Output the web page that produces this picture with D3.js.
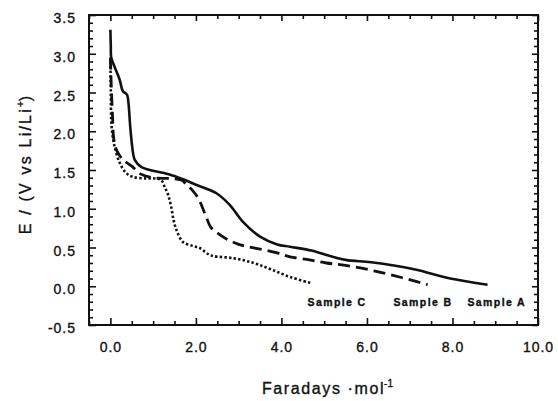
<!DOCTYPE html>
<html><head><meta charset="utf-8">
<script src="https://cdn.jsdelivr.net/npm/d3@7"></script>
<style>
body{margin:0;background:#fff}
text{font-family:"Liberation Sans",Arial,sans-serif;fill:#111;stroke:#111;stroke-width:0.35px}
</style>
</head><body><svg id="c" width="558" height="401"></svg>
<script>
// ---- data (Faradays/mol, E in V vs Li/Li+) ----
const sampleA = [[0,3.31],[0.01,3.1],[0.02,2.95],[0.1,2.83],[0.22,2.66],[0.29,2.52],[0.39,2.47],[0.42,2.38],[0.47,2.02],[0.53,1.72],[0.57,1.63],[0.72,1.54],[1.0,1.49],[1.4,1.44],[1.7,1.38],[2.0,1.31],[2.48,1.2],[2.79,1.05],[3.1,0.83],[3.5,0.64],[3.9,0.54],[4.2,0.51],[4.7,0.46],[4.9,0.43],[5.5,0.34],[6.1,0.31],[7.1,0.22],[7.95,0.1],[8.82,0.02]];
const sampleB = [[0,2.95],[0.02,2.6],[0.05,2.2],[0.08,1.9],[0.15,1.75],[0.3,1.63],[0.5,1.55],[0.7,1.45],[1.0,1.4],[1.4,1.39],[1.66,1.37],[1.8,1.3],[1.9,1.25],[2.05,1.14],[2.15,1.02],[2.25,0.88],[2.35,0.76],[2.55,0.67],[2.75,0.6],[3.0,0.54],[3.2,0.51],[3.5,0.48],[3.9,0.43],[4.2,0.38],[4.66,0.34],[5.05,0.3],[5.5,0.27],[6.4,0.17],[7.42,0.02]];
const sampleC = [[0,2.9],[0.01,2.5],[0.02,2.15],[0.05,1.95],[0.1,1.8],[0.22,1.59],[0.37,1.46],[0.53,1.41],[0.84,1.39],[1.07,1.39],[1.19,1.37],[1.27,1.28],[1.35,1.18],[1.42,1.03],[1.48,0.85],[1.55,0.72],[1.7,0.57],[1.93,0.52],[2.1,0.49],[2.3,0.41],[2.4,0.39],[2.9,0.36],[3.35,0.3],[3.75,0.22],[4.2,0.12],[4.7,0.04]];
const seriesNames = ["Sample A","Sample B","Sample C"];
const labelX = [8.35, 6.62, 4.61];
const labelY = [-0.25, -0.25, -0.25];
const xTicks = [0,2,4,6,8,10];
const yTicks = [-0.5,0,0.5,1,1.5,2,2.5,3,3.5];
const xTitle = "Faradays ·mol";
const xTitleSup = "-1";

// ---- layout ----
const svg = d3.select("#c");
const L=89, R=538, T=15, B=325;
const x = d3.scaleLinear([-0.5,10],[L,R]);
const y = d3.scaleLinear([-0.5,3.5],[B,T]);
const fmt = d => d.toFixed(1);

// minor ticks
const xMinor = d3.range(-0.5,10.001,0.5).filter(v=>!xTicks.includes(v));
const yMinor = d3.range(-0.5,3.5001,0.1).map(v=>+v.toFixed(1)).filter(v=>!yTicks.some(t=>Math.abs(t-v)<1e-6));

function styleAxis(g){
  g.select(".domain").remove();
  g.selectAll(".tick line").attr("stroke","#111").attr("stroke-width",1.6);
}
// bottom
svg.append("g").attr("transform",`translate(0,${B})`)
  .call(d3.axisBottom(x).tickValues(xTicks).tickFormat(fmt).tickSize(-7).tickPadding(17))
  .call(styleAxis)
  .call(g=>g.selectAll("text").attr("font-size",14).attr("letter-spacing","1px").style("font-family","'Liberation Sans',Arial,sans-serif").attr("fill","#111"));
svg.append("g").attr("transform",`translate(0,${B})`)
  .call(d3.axisBottom(x).tickValues(xMinor).tickFormat("").tickSize(-4)).call(styleAxis);
// top
svg.append("g").attr("transform",`translate(0,${T})`)
  .call(d3.axisTop(x).tickValues(xTicks).tickFormat("").tickSize(-6)).call(styleAxis);
svg.append("g").attr("transform",`translate(0,${T})`)
  .call(d3.axisTop(x).tickValues(xMinor).tickFormat("").tickSize(-4)).call(styleAxis);
// left
svg.append("g").attr("transform",`translate(${L},0)`)
  .call(d3.axisLeft(y).tickValues(yTicks).tickFormat(fmt).tickSize(-7).tickPadding(13))
  .call(styleAxis)
  .call(g=>g.selectAll("text").attr("font-size",14).attr("letter-spacing","1px").attr("dy","0.55em").style("font-family","'Liberation Sans',Arial,sans-serif").attr("fill","#111"));
svg.append("g").attr("transform",`translate(${L},0)`)
  .call(d3.axisLeft(y).tickValues(yMinor).tickFormat("").tickSize(-4)).call(styleAxis);
// right
svg.append("g").attr("transform",`translate(${R},0)`)
  .call(d3.axisRight(y).tickValues(yTicks).tickFormat("").tickSize(-6)).call(styleAxis);
svg.append("g").attr("transform",`translate(${R},0)`)
  .call(d3.axisRight(y).tickValues(yMinor).tickFormat("").tickSize(-4)).call(styleAxis);

// frame
svg.append("rect").attr("x",L).attr("y",T).attr("width",R-L).attr("height",B-T)
  .attr("fill","none").attr("stroke","#111").attr("stroke-width",2);

// curves
const line = d3.line().x(d=>x(d[0])).y(d=>y(d[1])).curve(d3.curveCatmullRom.alpha(0.5));
const styles = [
  {data:sampleA, w:2.6, dash:null},
  {data:sampleB, w:2.8, dash:"12,6"},
  {data:sampleC, w:2.6, dash:"2.4,2.2"}
];
svg.append("g").selectAll("path").data(styles).join("path")
  .attr("d",s=>line(s.data)).attr("fill","none").attr("stroke","#111")
  .attr("stroke-width",s=>s.w).attr("stroke-dasharray",s=>s.dash)
  .attr("stroke-linejoin","round");

// sample labels
svg.append("g").selectAll("text").data(seriesNames).join("text")
  .attr("x",(d,i)=>x(labelX[i])).attr("y",(d,i)=>y(labelY[i]))
  .attr("font-size",10.5).attr("font-weight","bold").attr("letter-spacing","1.4px")
  .text(d=>d);

// x title
const xt = svg.append("text").attr("x",262).attr("y",394).attr("font-size",16).attr("letter-spacing","1.6px");
xt.append("tspan").text(xTitle);
xt.append("tspan").attr("font-size",10).attr("dy",-7).attr("dx",-1).attr("letter-spacing","0px").text(xTitleSup);

// y title
const yt = svg.append("text").attr("transform","translate(31,164) rotate(-90)")
  .attr("text-anchor","middle").attr("font-size",16).attr("letter-spacing","2.2px");
yt.append("tspan").text("E / (V vs Li/Li");
yt.append("tspan").attr("font-size",10).attr("dy",-7).attr("letter-spacing","0px").text("+");
yt.append("tspan").attr("dy",7).text(")");
</script>
</body></html>
